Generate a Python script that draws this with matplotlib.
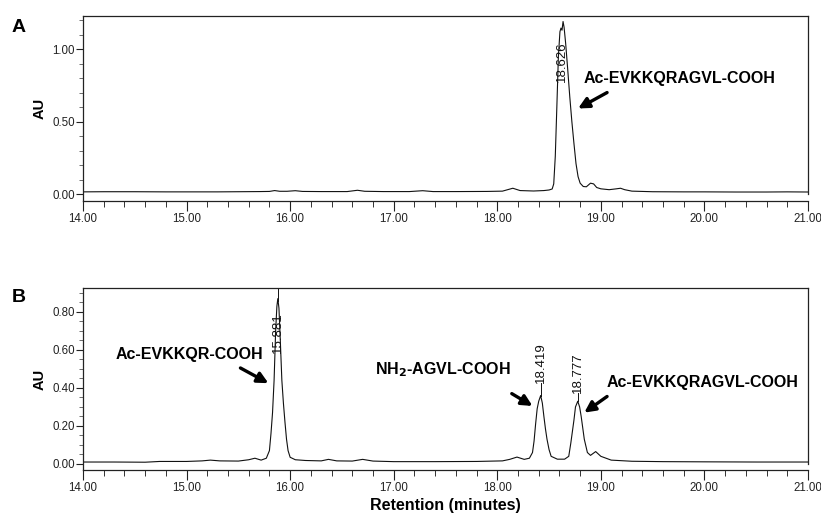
import matplotlib
matplotlib.use("Agg")
import matplotlib.pyplot as plt
from matplotlib.ticker import MultipleLocator, FormatStrFormatter

plt.rcParams['font.family'] = ['Liberation Sans', 'DejaVu Sans']

# ---------------- data ----------------
# Panel A chromatogram (retention time in minutes, absorbance AU)
a_time = [14.00, 14.20, 14.50, 14.80, 15.00, 15.30, 15.50, 15.70, 15.80, 15.85, 15.90,
          15.97, 16.05, 16.12, 16.30, 16.55, 16.65, 16.72, 16.90, 17.15, 17.28, 17.38,
          17.60, 17.90, 18.05, 18.15, 18.22, 18.35, 18.45, 18.50, 18.530, 18.545, 18.560,
          18.575, 18.590, 18.605, 18.615, 18.625, 18.635, 18.645, 18.660, 18.680, 18.700,
          18.720, 18.740, 18.760, 18.780, 18.800, 18.830, 18.860, 18.900, 18.930, 18.960,
          19.000, 19.080, 19.150, 19.190, 19.230, 19.300, 19.500, 19.800, 20.000, 20.300,
          20.600, 20.800, 21.000]
a_au = [0.015, 0.016, 0.016, 0.015, 0.015, 0.015, 0.016, 0.017, 0.018, 0.024, 0.019,
        0.019, 0.023, 0.018, 0.017, 0.017, 0.026, 0.019, 0.017, 0.017, 0.023, 0.017,
        0.017, 0.018, 0.020, 0.040, 0.024, 0.021, 0.024, 0.028, 0.035, 0.070, 0.260,
        0.600, 0.950, 1.120, 1.145, 1.130, 1.190, 1.150, 1.040, 0.860, 0.670,
        0.500, 0.350, 0.210, 0.120, 0.075, 0.052, 0.050, 0.075, 0.070, 0.045,
        0.036, 0.030, 0.036, 0.040, 0.030, 0.020, 0.016, 0.015, 0.015, 0.014,
        0.014, 0.015, 0.014]

# Panel B chromatogram
b_time = [14.00, 14.30, 14.60, 14.74, 15.00, 15.15, 15.23, 15.32, 15.50, 15.60, 15.66,
          15.72, 15.77, 15.800, 15.815, 15.830, 15.845, 15.860, 15.872, 15.881, 15.892,
          15.905, 15.920, 15.935, 15.950, 15.965, 15.980, 16.00, 16.05, 16.15, 16.30,
          16.37, 16.45, 16.60, 16.70, 16.80, 17.00, 17.40, 17.80, 18.05, 18.12, 18.19,
          18.26, 18.31, 18.340, 18.355, 18.370, 18.385, 18.400, 18.419, 18.435, 18.450,
          18.465, 18.480, 18.500, 18.520, 18.580, 18.650, 18.690, 18.710, 18.725, 18.740,
          18.755, 18.777, 18.795, 18.810, 18.825, 18.840, 18.870, 18.900, 18.950,
          19.000, 19.100, 19.300, 19.600, 20.000, 20.500, 21.000]
b_au = [0.010, 0.010, 0.009, 0.013, 0.013, 0.016, 0.020, 0.016, 0.015, 0.022, 0.030,
        0.020, 0.030, 0.070, 0.160, 0.270, 0.440, 0.700, 0.830, 0.870, 0.820,
        0.650, 0.440, 0.320, 0.220, 0.130, 0.070, 0.035, 0.022, 0.018, 0.016,
        0.024, 0.016, 0.015, 0.024, 0.015, 0.012, 0.012, 0.013, 0.016, 0.024, 0.036,
        0.024, 0.030, 0.060, 0.120, 0.210, 0.290, 0.330, 0.360, 0.320, 0.250,
        0.185, 0.130, 0.075, 0.040, 0.025, 0.025, 0.040, 0.110, 0.170, 0.230,
        0.300, 0.330, 0.300, 0.250, 0.190, 0.130, 0.060, 0.045, 0.065,
        0.040, 0.020, 0.014, 0.012, 0.011, 0.010, 0.010]

# peak retention-time labels
a_peak_times = [18.626]
a_peak_labels = ["18.626"]
b_peak_times = [15.881, 18.419, 18.777]
b_peak_labels = ["15.881", "18.419", "18.777"]

x_ticks = [14.00, 15.00, 16.00, 17.00, 18.00, 19.00, 20.00, 21.00]
a_y_ticks = [0.00, 0.50, 1.00]
b_y_ticks = [0.00, 0.20, 0.40, 0.60, 0.80]

# compound names
a_compounds = ["Ac-EVKKQRAGVL-COOH"]
b_compounds = ["Ac-EVKKQR-COOH", "NH$_\\mathbf{2}$-AGVL-COOH", "Ac-EVKKQRAGVL-COOH"]

# ---------------- figure ----------------
W, H = 821, 515
fig = plt.figure(figsize=(W / 100, H / 100), dpi=100)

def px_axes(left, top, right, bottom):
    return fig.add_axes([left / W, 1 - bottom / H, (right - left) / W, (bottom - top) / H])

axA = px_axes(83, 16, 808, 201)
axB = px_axes(83, 288, 808, 470)

line_kw = dict(color='#111111', lw=0.8)
axA.plot(a_time, a_au, **line_kw)
axB.plot(b_time, b_au, **line_kw)

axA.set_ylim(-0.048, 1.228)
axB.set_ylim(-0.032, 0.926)

for ax, yt, yminor in [(axA, a_y_ticks, 0.1), (axB, b_y_ticks, 0.05)]:
    ax.set_xlim(14.0, 21.0)
    ax.set_xticks(x_ticks)
    ax.xaxis.set_minor_locator(MultipleLocator(0.2))
    ax.set_yticks(yt)
    ax.yaxis.set_minor_locator(MultipleLocator(yminor))
    ax.xaxis.set_major_formatter(FormatStrFormatter('%.2f'))
    ax.yaxis.set_major_formatter(FormatStrFormatter('%.2f'))
    ax.tick_params(axis='both', which='major', direction='out', labelsize=8.3,
                   colors='#222222', width=0.8)
    ax.tick_params(axis='x', which='major', length=7, pad=1.5)
    ax.tick_params(axis='x', which='minor', length=4, width=0.7, colors='#333333')
    ax.tick_params(axis='y', which='major', length=5, pad=1)
    ax.tick_params(axis='y', which='minor', length=3, width=0.6, colors='#555555')
    for s in ax.spines.values():
        s.set_linewidth(0.9)
        s.set_color('#222222')
    ax.spines['right'].set_bounds(0.0, ax.get_ylim()[1])
    ax.set_ylabel('AU', fontsize=10.5, fontweight='bold', labelpad=4)
    for lab in ax.get_xticklabels():
        lab.set_clip_on(False)

axB.set_xlabel('Retention (minutes)', fontsize=11.5, fontweight='bold', labelpad=3)

# panel letters
fig.text(12 / W, 1 - 32 / H, 'A', fontsize=14, fontweight='bold', ha='left', va='baseline')
fig.text(12 / W, 1 - 302 / H, 'B', fontsize=14, fontweight='bold', ha='left', va='baseline')

# peak retention labels
lbl_kw = dict(rotation=90, fontsize=9.5, ha='center', va='bottom', color='#111111')
axA.text(a_peak_times[0], 0.77, a_peak_labels[0], **lbl_kw)

axB.text(b_peak_times[0], 0.585, b_peak_labels[0], **lbl_kw)
axB.plot([b_peak_times[0], b_peak_times[0]], [0.86, 0.926], color='#111111', lw=0.7)
axB.text(b_peak_times[1], 0.425, b_peak_labels[1], **lbl_kw)
axB.plot([b_peak_times[1], b_peak_times[1]], [0.36, 0.425], color='#111111', lw=0.7)
axB.text(b_peak_times[2], 0.375, b_peak_labels[2], **lbl_kw)
axB.plot([b_peak_times[2], b_peak_times[2]], [0.33, 0.375], color='#111111', lw=0.7)

# compound annotations with arrows
arrow = dict(arrowstyle='-|>', color='black', lw=2.4, mutation_scale=16, shrinkA=0, shrinkB=0)
txt_kw = dict(fontsize=11.5, fontweight='bold', color='black')

axA.text(18.83, 0.80, a_compounds[0], ha='left', va='center', **txt_kw)
axA.annotate('', xy=(18.78, 0.59), xytext=(19.06, 0.70), arrowprops=arrow)

axB.text(14.31, 0.574, b_compounds[0], ha='left', va='center', **txt_kw)
axB.annotate('', xy=(15.79, 0.425), xytext=(15.52, 0.505), arrowprops=arrow)

axB.text(18.13, 0.495, b_compounds[1], ha='right', va='center', **txt_kw)
axB.annotate('', xy=(18.34, 0.305), xytext=(18.14, 0.37), arrowprops=arrow)

axB.text(19.06, 0.426, b_compounds[2], ha='left', va='center', **txt_kw)
axB.annotate('', xy=(18.84, 0.27), xytext=(19.06, 0.355), arrowprops=arrow)

fig.savefig('out.png', dpi=100)
